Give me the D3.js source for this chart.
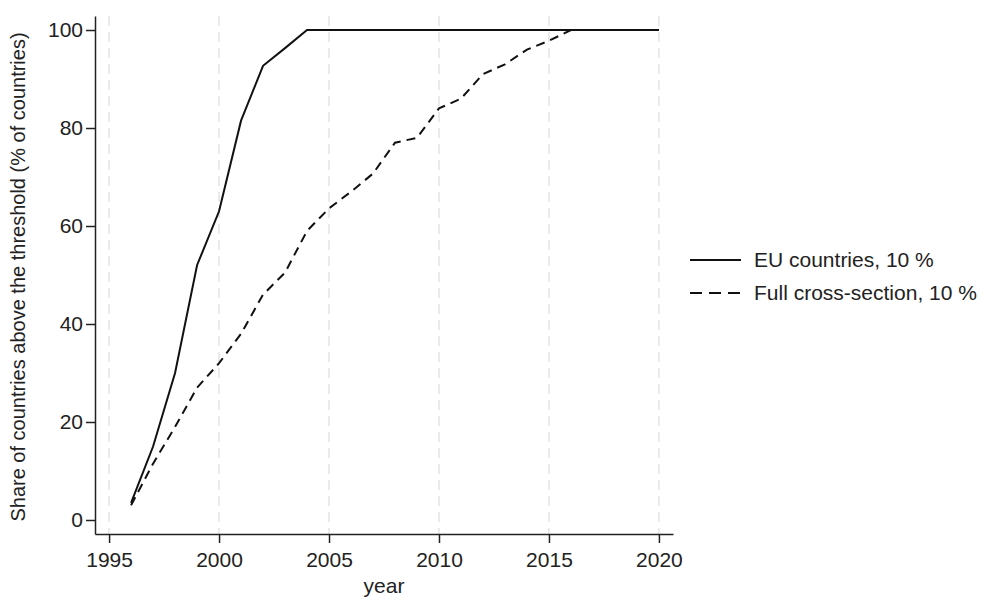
<!DOCTYPE html>
<html>
<head>
<meta charset="utf-8">
<style>
  body { margin: 0; background: #fff; }
  svg { display: block; font-family: "Liberation Sans", Arial, sans-serif; }
  .axis path, .axis line { stroke: #222; stroke-width: 1.5px; }
  .axis text { font-size: 21px; fill: #222; }
  .grid line { stroke: #e4e4e4; stroke-width: 1.5px; stroke-dasharray: 10,6; }
</style>
<script src="https://d3js.org/d3.v7.min.js"></script>
</head>
<body>
<script>
  // years and the two series (share of countries above threshold, %)
  var years = d3.range(1996, 2021);
  var euShare = [3.5, 15, 30, 52, 63, 81.5, 92.7, 96.3, 100, 100, 100, 100, 100,
                 100, 100, 100, 100, 100, 100, 100, 100, 100, 100, 100, 100];
  var fullShare = [3, 11.5, 19, 27, 32, 38, 46, 50.5, 59, 63.6, 67, 70.7, 77,
                   78, 84, 86, 91, 93, 96, 97.8, 100, 100, 100, 100, 100];
  var xTicks = [1995, 2000, 2005, 2010, 2015, 2020];
  var yTicks = [0, 20, 40, 60, 80, 100];
  var seriesNames = ["EU countries, 10 %", "Full cross-section, 10 %"];

  var width = 996, height = 604;
  var plotLeft = 95, plotRight = 673, plotTop = 16, plotBottom = 534;

  var svg = d3.select("body").append("svg")
      .attr("width", width)
      .attr("height", height);

  var x = d3.scaleLinear()
      .domain([1994.36, 2020.64])
      .range([plotLeft, plotRight]);
  var y = d3.scaleLinear()
      .domain([-2.86, 102.86])
      .range([plotBottom, plotTop]);

  // vertical dashed grid
  svg.append("g")
      .attr("class", "grid")
      .selectAll("line")
      .data(xTicks)
      .enter().append("line")
      .attr("x1", function (d) { return x(d); })
      .attr("x2", function (d) { return x(d); })
      .attr("y1", plotTop)
      .attr("y2", plotBottom);

  svg.append("g")
      .attr("class", "axis")
      .attr("transform", "translate(0," + plotBottom + ")")
      .call(d3.axisBottom(x).tickValues(xTicks).tickFormat(d3.format("d"))
            .tickSize(9).tickPadding(9).tickSizeOuter(0));

  svg.append("g")
      .attr("class", "axis")
      .attr("transform", "translate(" + plotLeft + ",0)")
      .call(d3.axisLeft(y).tickValues(yTicks)
            .tickSize(9).tickPadding(3).tickSizeOuter(0));

  // axis titles
  svg.append("text")
      .attr("x", (plotLeft + plotRight) / 2)
      .attr("y", 593)
      .attr("text-anchor", "middle")
      .style("font-size", "21px")
      .style("fill", "#222")
      .text("year");

  svg.append("text")
      .attr("transform", "translate(25," + ((plotTop + plotBottom) / 2 + 2) + ") rotate(-90)")
      .attr("text-anchor", "middle")
      .style("font-size", "20px")
      .style("fill", "#222")
      .text("Share of countries above the threshold (% of countries)");

  var line = d3.line()
      .x(function (d, i) { return x(years[i]); })
      .y(function (d) { return y(d); });

  svg.append("path")
      .datum(fullShare)
      .attr("d", line)
      .attr("fill", "none")
      .attr("stroke", "#111")
      .attr("stroke-width", 2)
      .attr("stroke-dasharray", "9,6");

  svg.append("path")
      .datum(euShare)
      .attr("d", line)
      .attr("fill", "none")
      .attr("stroke", "#111")
      .attr("stroke-width", 2);

  // legend
  var legend = svg.append("g")
      .attr("transform", "translate(690,260)");
  seriesNames.forEach(function (name, i) {
    var row = legend.append("g").attr("transform", "translate(0," + (i * 33) + ")");
    row.append("line")
        .attr("x1", 0).attr("x2", 51)
        .attr("y1", 0).attr("y2", 0)
        .attr("stroke", "#111")
        .attr("stroke-width", 2)
        .attr("stroke-dasharray", i === 1 ? "12,7" : null);
    row.append("text")
        .attr("x", 64)
        .attr("y", 0)
        .attr("dy", "0.35em")
        .style("font-size", "21px")
        .style("fill", "#222")
        .text(name);
  });
</script>
</body>
</html>
